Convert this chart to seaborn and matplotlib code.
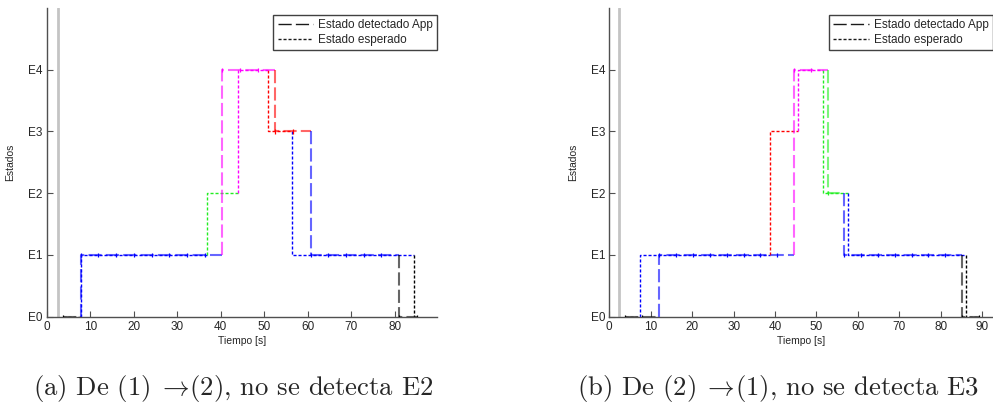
import matplotlib
matplotlib.use("Agg")
import matplotlib.pyplot as plt
from matplotlib.lines import Line2D
import pandas as pd
import seaborn as sns

# ---------------------------------------------------------------- data
estados = ["E0", "E1", "E2", "E3", "E4"]
colores_estado = ["#000000", "#0000ff", "#22ee22", "#ff0000", "#ff00ff"]
ticks_tiempo = [0, 10, 20, 30, 40, 50, 60, 70, 80, 90]

# (a) De (1) -> (2): samples reported by the app and the expected sequence
t_app_a = [3.8, 7.9, 11.9, 16.0, 20.1, 24.1, 28.2, 32.3, 36.3, 40.4, 44.4,
           48.5, 52.6, 56.6, 60.7, 64.7, 68.8, 72.9, 76.9, 81.0, 85.1]
e_app_a = [0, 1, 1, 1, 1, 1, 1, 1, 1, 4, 4,
           4, 3, 3, 1, 1, 1, 1, 1, 0, 0]
t_esp_a = [3.8, 7.9, 36.9, 44.0, 50.8, 56.3, 84.4, 85.1]
e_esp_a = [0, 1, 2, 4, 3, 1, 0, 0]
inicio_a = 2.7

# (b) De (2) -> (1)
t_app_b = [3.9, 8.0, 12.1, 16.0, 20.1, 24.3, 28.3, 32.4, 36.4, 40.4, 44.5,
           48.6, 52.7, 56.7, 60.8, 64.8, 69.0, 73.1, 77.0, 81.0, 85.2, 89.2]
e_app_b = [0, 0, 1, 1, 1, 1, 1, 1, 1, 1, 4,
           4, 2, 1, 1, 1, 1, 1, 1, 1, 0, 0]
t_esp_b = [3.9, 7.3, 38.7, 45.6, 51.5, 57.5, 86.1, 89.2]
e_esp_b = [0, 1, 3, 4, 2, 1, 0, 0]
inicio_b = 2.4

titulos = [r"(a) De (1)$\;\rightarrow\!$(2), no se detecta E2",
           r"(b) De (2)$\;\rightarrow\!$(1), no se detecta E3"]

# ---------------------------------------------------------------- style
sns.set_theme(style="white")
plt.rcParams["font.family"] = ["Liberation Sans", "DejaVu Sans"]
plt.rcParams["mathtext.fontset"] = "cm"
plt.rcParams["lines.scale_dashes"] = False

DASH_APP = (0, (9.5, 3.0))
DASH_ESP = (0, (2.2, 1.4))
EJE = "#505050"


def tramos(t, e):
    """Split a step signal into pieces, each coloured by the state entered."""
    piezas = []
    ini = 0
    n = len(t)
    for i in range(1, n + 1):
        if i == n or e[i] != e[ini]:
            fin = t[i] if i < n else t[-1]
            if ini > 0:
                xs = [t[ini], t[ini], fin]
                ys = [e[ini - 1], e[ini], e[ini]]
            else:
                xs = [t[ini], fin]
                ys = [e[ini], e[ini]]
            piezas.append((pd.DataFrame({"t": xs, "estado": ys}), e[ini]))
            ini = i
    return piezas


def panel(ax, t_app, e_app, t_esp, e_esp, inicio, xmax):
    ax.axvline(inicio, color="#c4c4c4", lw=2.0, zorder=1)

    for df, s in tramos(t_esp, e_esp):
        sns.lineplot(data=df, x="t", y="estado", sort=False, estimator=None,
                     color=colores_estado[s], lw=1.0, linestyle=DASH_ESP,
                     ax=ax, zorder=2)
    for df, s in tramos(t_app, e_app):
        sns.lineplot(data=df, x="t", y="estado", sort=False, estimator=None,
                     color=colores_estado[s], lw=1.5, alpha=0.6,
                     linestyle=DASH_APP, ax=ax, zorder=2.2)

    muestras = pd.DataFrame({"t": t_app, "estado": e_app})
    sns.scatterplot(data=muestras, x="t", y="estado", hue="estado",
                    palette=dict(enumerate(colores_estado)), marker="|",
                    s=9, linewidth=0.9, legend=False, ax=ax, zorder=3)

    ax.set_xlim(0, xmax)
    ax.set_ylim(0, 5)
    ax.set_xticks([v for v in ticks_tiempo if v <= xmax])
    ax.set_yticks(range(len(estados)))
    ax.set_yticklabels(estados)
    ax.tick_params(direction="in", length=4, width=0.8, color=EJE,
                   labelsize=8.5, labelcolor="#262626", pad=3,
                   bottom=True, left=True)
    ax.set_xlabel("Tiempo [s]", fontsize=7.5, labelpad=2, color="#262626")
    ax.set_ylabel("Estados", fontsize=7.5, labelpad=9, color="#262626")
    for lado in ("top", "right"):
        ax.spines[lado].set_visible(False)
    for lado in ("left", "bottom"):
        ax.spines[lado].set_color(EJE)
        ax.spines[lado].set_linewidth(1.0)

    handles = [Line2D([], [], color="k", lw=1.0, linestyle=DASH_APP),
               Line2D([], [], color="k", lw=1.0, linestyle=DASH_ESP)]
    leg = ax.legend(handles, ["Estado detectado App", "Estado esperado"],
                    loc="upper right", bbox_to_anchor=(1.0, 0.978),
                    borderaxespad=0, fontsize=8.5, frameon=True,
                    fancybox=False, handlelength=3.0, handletextpad=0.45,
                    borderpad=0.35, labelspacing=0.25)
    leg.get_frame().set_edgecolor("#111111")
    leg.get_frame().set_linewidth(1.0)


fig = plt.figure(figsize=(9.93, 4.04), dpi=100)
ax_a = fig.add_axes([0.0470, 0.2161, 0.3934, 0.7641])
ax_b = fig.add_axes([0.6136, 0.2161, 0.3864, 0.7641])

panel(ax_a, t_app_a, e_app_a, t_esp_a, e_esp_a, inicio_a, 89.8)
panel(ax_b, t_app_b, e_app_b, t_esp_b, e_esp_b, inicio_b, 92.6)

for xc, titulo in zip([0.2352, 0.7830], titulos):
    fig.text(xc, 0.0223, titulo, ha="center", va="baseline",
             fontsize=19.2, family=["cmr10", "DejaVu Serif"])

fig.savefig("out.png", dpi=100)
